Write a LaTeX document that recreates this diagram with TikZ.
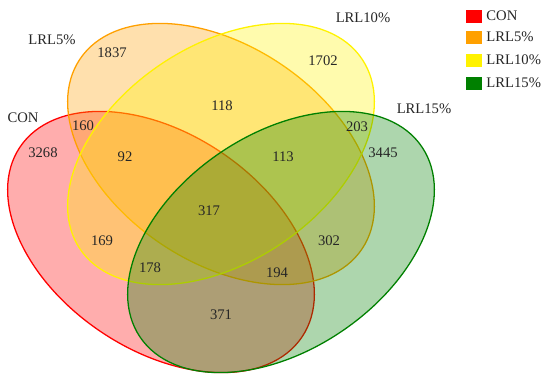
\documentclass[tikz,border=0pt]{standalone}
\usepackage{fontspec}
\setmainfont{Liberation Serif}
\usetikzlibrary{positioning}
\definecolor{vorange}{RGB}{255,160,0}

\begin{document}
\begin{tikzpicture}[
    x=0.03cm, y=-0.03cm,
    venn/.style={line width=1.1pt, fill opacity=0.32},
    num/.style={font=\fontsize{12.5}{14}\selectfont, text=black!85, inner sep=0pt},
    setlbl/.style={font=\fontsize{12.5}{14}\selectfont, text=black!85, inner sep=0pt},
    key/.style={minimum width=16*0.03cm, minimum height=13*0.03cm, inner sep=0pt},
    keylbl/.style={font=\fontsize{12.5}{14}\selectfont, text=black!85, inner sep=0pt, anchor=west}
]
\useasboundingbox (0,0) rectangle (550,385);

% the four sets
\path[venn, draw=red, fill=red, rotate around={-34:(161,242)}] (161,242) ellipse [x radius=170, y radius=108];
\path[venn, draw=vorange, fill=vorange, rotate around={-34:(221,154)}] (221,154) ellipse [x radius=170, y radius=108];
\path[venn, draw=yellow, fill=yellow, rotate around={34:(221,154)}] (221,154) ellipse [x radius=170, y radius=108];
\path[venn, draw=green!50!black, fill=green!50!black, rotate around={34:(281,242)}] (281,242) ellipse [x radius=170, y radius=108];

% set names
\node[setlbl] (ncon) at (23,118) {CON};
\node[setlbl] (n5) at (52,40) {LRL5\%};
\node[setlbl] (n10) at (363,18) {LRL10\%};
\node[setlbl] (n15) at (424,109) {LRL15\%};

% counts
\node[num] (c1837) at (112,53) {1837};
\node[num] (c1702) at (323,61) {1702};
\node[num] (c3268) at (43,153) {3268};
\node[num] (c3445) at (383,153) {3445};
\node[num] (c160) at (83,126) {160};
\node[num] (c118) at (222,106) {118};
\node[num] (c203) at (357,127) {203};
\node[num] (c92) at (125,157) {92};
\node[num] (c113) at (283,157) {113};
\node[num] (c317) at (209,211) {317};
\node[num] (c169) at (102,241) {169};
\node[num] (c302) at (329,241) {302};
\node[num] (c178) at (150,268) {178};
\node[num] (c194) at (277,273) {194};
\node[num] (c371) at (221,315) {371};

% legend
\node[key, fill=red] (kcon) at (474,16) {};
\node[key, fill=vorange] (k5) at (474,37) {};
\node[key, fill=yellow] (k10) at (474,60) {};
\node[key, fill=green!50!black] (k15) at (474,83) {};
\node[keylbl, right=4*0.03cm of kcon] (lcon) {CON};
\node[keylbl, right=4*0.03cm of k5] (l5) {LRL5\%};
\node[keylbl, right=4*0.03cm of k10] (l10) {LRL10\%};
\node[keylbl, right=4*0.03cm of k15] (l15) {LRL15\%};
\end{tikzpicture}
\end{document}
